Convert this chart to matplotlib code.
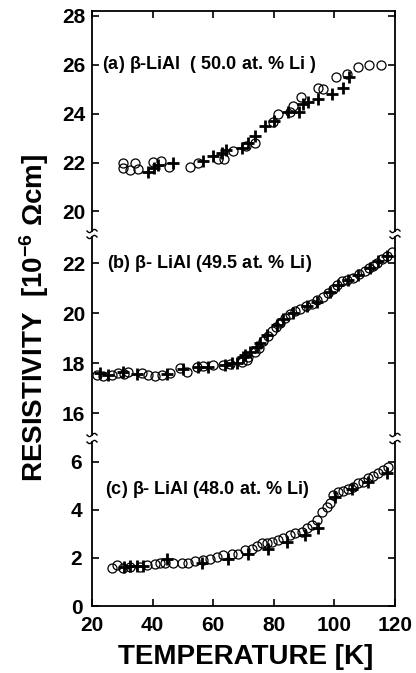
import numpy as np
import matplotlib.pyplot as plt

plt.rcParams['font.family'] = ['Liberation Sans', 'DejaVu Sans']
plt.rcParams['font.weight'] = 'bold'
plt.rcParams['mathtext.fontset'] = 'custom'
plt.rcParams['mathtext.rm'] = 'Liberation Sans'
plt.rcParams['mathtext.bf'] = 'Liberation Sans:bold'
plt.rcParams['mathtext.default'] = 'bf'

# ---------------------------------------------------------------------------
# data (temperature in K, resistivity in 1e-6 Ohm cm)
# ---------------------------------------------------------------------------

# (a) 50.0 at.% Li
t_a_circ = [30.3, 30.3, 32.5, 34.2, 35.3, 40.2, 42.7, 45.4, 52.3, 54.9, 61.5, 63.6,
            66.4, 70.8, 73.8, 79.8, 81.5, 85.3, 86.4, 88.9, 94.7, 96.3, 100.5,
            104.1, 107.9, 111.4, 115.3]
r_a_circ = [21.97, 21.76, 21.70, 21.97, 21.74, 22.01, 22.07, 21.82, 21.82, 21.97,
            22.15, 22.15, 22.49, 22.67, 22.80, 23.64, 23.99, 24.05, 24.33, 24.68,
            25.03, 24.99, 25.49, 25.63, 25.89, 25.99, 26.00]
t_a_plus = [38.6, 40.5, 41.9, 46.8, 56.7, 60.0, 62.8, 64.1, 69.4, 71.6, 73.8, 77.1,
            80.1, 84.8, 88.4, 89.7, 91.4, 94.7, 99.1, 102.9, 104.9]
r_a_plus = [21.63, 21.76, 21.88, 22.00, 22.07, 22.25, 22.39, 22.53, 22.60, 22.80,
            23.08, 23.50, 23.71, 24.05, 24.05, 24.40, 24.47, 24.60, 24.82, 25.07,
            25.50]

# (b) 49.5 at.% Li
t_b_circ = [21.5, 23.7, 26.5, 28.5, 30.5, 32.0, 36.5, 38.6, 40.8, 43.0, 45.7, 49.0,
            51.3, 54.6, 56.7, 60.0, 63.3, 65.5, 69.4, 71.0, 71.6, 73.8, 75.0, 76.5,
            78.0, 79.3, 80.6, 82.0, 83.6, 85.3, 87.0, 88.6, 90.5, 92.5, 94.4, 96.3,
            98.0, 99.6, 101.0, 102.4, 104.3, 106.2, 108.2, 110.1, 111.5, 112.8,
            114.2, 115.6, 117.2, 118.9]
r_b_circ = [17.55, 17.51, 17.55, 17.60, 17.58, 17.64, 17.60, 17.55, 17.51, 17.55,
            17.62, 17.81, 17.64, 17.87, 17.90, 17.92, 17.93, 17.97, 18.06, 18.15,
            18.27, 18.47, 18.62, 18.88, 19.08, 19.29, 19.45, 19.62, 19.80, 19.97,
            20.08, 20.17, 20.28, 20.37, 20.52, 20.65, 20.82, 20.99, 21.12, 21.28,
            21.35, 21.42, 21.58, 21.70, 21.80, 21.90, 22.02, 22.18, 22.30, 22.46]
t_b_plus = [22.6, 25.4, 30.3, 34.7, 44.6, 50.1, 55.1, 58.4, 63.9, 66.1, 67.8, 69.9,
            70.5, 72.1, 74.4, 75.4, 77.6, 81.0, 83.1, 86.4, 90.9, 94.2, 98.5, 101.3,
            104.6, 107.9, 111.7, 114.5, 117.3]
r_b_plus = [17.62, 17.55, 17.64, 17.59, 17.59, 17.77, 17.87, 17.87, 17.93, 18.00,
            18.03, 18.26, 18.35, 18.45, 18.64, 18.80, 19.15, 19.55, 19.76, 20.03,
            20.30, 20.44, 20.85, 21.13, 21.34, 21.55, 21.80, 22.08, 22.30]

# (c) 48.0 at.% Li
t_c_circ = [26.5, 28.1, 30.3, 32.5, 35.8, 38.0, 40.8, 42.4, 44.1, 46.8, 49.6, 51.8,
            54.0, 56.7, 59.0, 61.2, 63.3, 66.1, 68.3, 70.5, 72.7, 74.4, 76.0, 77.7,
            79.3, 81.5, 83.1, 85.3, 87.0, 89.2, 90.9, 92.5, 94.2, 95.8, 97.5, 98.5,
            99.6, 101.3, 102.9, 104.6, 106.2, 107.9, 109.5, 111.2, 112.8, 114.5,
            116.2, 117.8]
r_c_circ = [1.56, 1.70, 1.56, 1.63, 1.63, 1.70, 1.74, 1.77, 1.77, 1.77, 1.77, 1.80,
            1.88, 1.90, 1.97, 2.04, 2.11, 2.18, 2.18, 2.32, 2.39, 2.49, 2.60, 2.63,
            2.67, 2.74, 2.81, 2.95, 3.02, 3.08, 3.23, 3.36, 3.57, 3.92, 4.13, 4.27,
            4.61, 4.75, 4.79, 4.85, 4.96, 5.10, 5.17, 5.31, 5.40, 5.52, 5.65, 5.77]
t_c_plus = [30.7, 32.5, 34.7, 36.9, 44.6, 56.2, 65.0, 71.6, 78.2, 84.5, 90.3, 94.7,
            100.2, 105.7, 111.2, 117.3]
r_c_plus = [1.63, 1.66, 1.66, 1.66, 1.97, 1.77, 1.97, 2.18, 2.39, 2.67, 2.95, 3.23,
            4.52, 4.85, 5.17, 5.52]

panel_labels = [r'(a) $\mathrm{\beta}$-LiAl  ( 50.0 at. % Li )',
                r'(b) $\mathrm{\beta}$- LiAl (49.5 at. % Li)',
                r'(c) $\mathrm{\beta}$- LiAl (48.0 at. % Li)']
x_ticks = [20, 40, 60, 80, 100, 120]

# ---------------------------------------------------------------------------

W, H = 416, 673
fig = plt.figure(figsize=(W / 100, H / 100), dpi=100)

left, width = 92 / W, 303 / W
ax_a = fig.add_axes([left, 1 - 231 / H, width, 220 / H])
ax_b = fig.add_axes([left, 1 - 435 / H, width, 198 / H])
ax_c = fig.add_axes([left, 1 - 606 / H, width, 164 / H])

panels = [
    (ax_a, t_a_circ, r_a_circ, t_a_plus, r_a_plus, (19.2, 28.2), [20, 22, 24, 26, 28]),
    (ax_b, t_b_circ, r_b_circ, t_b_plus, r_b_plus, (15.14, 23.05), [16, 18, 20, 22]),
    (ax_c, t_c_circ, r_c_circ, t_c_plus, r_c_plus, (0, 6.82), [0, 2, 4, 6]),
]
label_pos = [(23.3, 26.0), (25.0, 22.0), (24.3, 4.86)]


def draw_break(ax, at_top):
    # little wavy marks where the axis is broken
    bb = ax.get_position()
    w_px, h_px = bb.width * W, bb.height * H
    s = np.linspace(-5, 5, 30)
    dy = 1.6 * np.sin(np.pi * s / 5)
    for x0 in (0, 1):
        xs = x0 + s / w_px
        ys = (1 if at_top else 0) + dy / h_px
        ax.plot(xs, ys, color='black', lw=1.0, transform=ax.transAxes, clip_on=False)


for i, (ax, tc, rc, tp, rp, ylim, yt) in enumerate(panels):
    ax.plot(tc, rc, ls='none', marker='o', ms=6.5, mfc='none', mec='black', mew=0.9)
    ax.plot(tp, rp, ls='none', marker='+', ms=8, mec='black', mew=2.0)
    ax.set_xlim(20, 120)
    ax.set_ylim(*ylim)
    ax.set_yticks(yt)
    ax.set_xticks(x_ticks)
    for sp in ax.spines.values():
        sp.set_linewidth(1.3)
    ax.tick_params(direction='in', length=5, width=1.2, labelsize=15,
                   left=True, right=True, pad=5)
    ax.text(label_pos[i][0], label_pos[i][1], panel_labels[i], fontsize=13,
            fontweight='bold', ha='left', va='center')

ax_a.spines['bottom'].set_visible(False)
ax_a.tick_params(top=True, bottom=False, labelbottom=False)
ax_b.spines['bottom'].set_visible(False)
ax_b.spines['top'].set_visible(False)
ax_b.tick_params(top=False, bottom=False, labelbottom=False)
ax_c.spines['top'].set_visible(False)
ax_c.tick_params(top=False, bottom=True, labelbottom=True, pad=7)

draw_break(ax_a, at_top=False)
draw_break(ax_b, at_top=True)
draw_break(ax_b, at_top=False)
draw_break(ax_c, at_top=True)

fig.text(246 / W, 1 - 657 / H, 'TEMPERATURE [K]', fontsize=20, fontweight='bold',
         ha='center', va='center')
fig.text(34 / W, 1 - 318 / H, 'RESISTIVITY  [10$^{-6}$ \u03a9cm]', fontsize=20,
         fontweight='bold', rotation=90, ha='center', va='center')

fig.savefig('out.png', dpi=100)
